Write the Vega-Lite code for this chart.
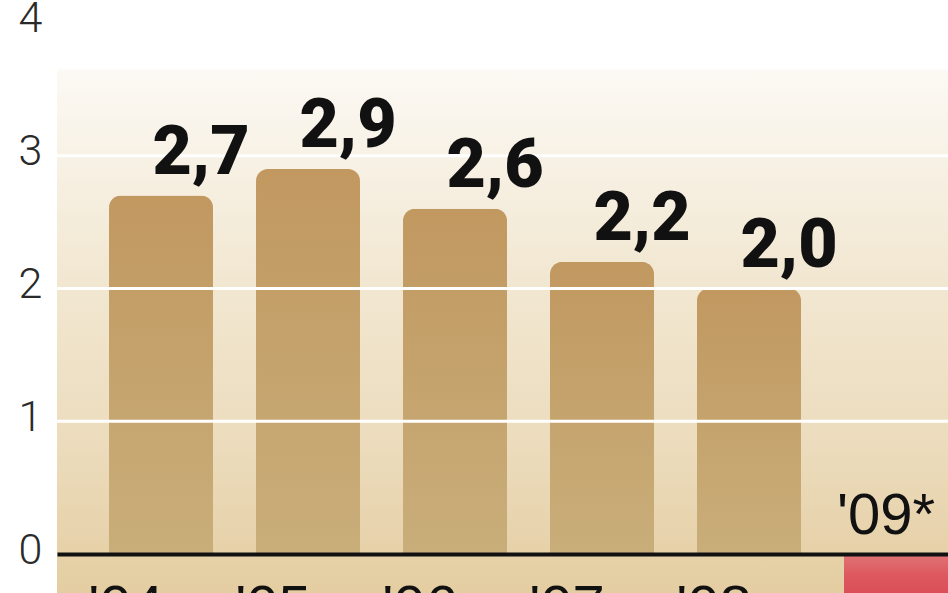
{
  "$schema": "https://vega.github.io/schema/vega-lite/v6.json",
  "autosize": {"type": "none"},
  "padding": {"left": 57, "top": 0, "right": 0, "bottom": 0},
  "width": 891,
  "height": 593,
  "background": "#ffffff",
  "config": {
    "locale": {"number": {"decimal": ",", "thousands": " ", "grouping": [3], "currency": ["", " zł"]}},
    "view": {
      "stroke": null,
      "fill": {
        "gradient": "linear", "x1": 0, "y1": 0, "x2": 0, "y2": 1,
        "stops": [
          {"offset": 0, "color": "#ffffff"},
          {"offset": 0.115, "color": "#ffffff"},
          {"offset": 0.12, "color": "#fcf9f4"},
          {"offset": 0.45, "color": "#f2e8d3"},
          {"offset": 0.75, "color": "#ecdcbd"},
          {"offset": 1, "color": "#e4cda1"}
        ]
      }
    }
  },
  "data": {
    "values": [
      {"rok": "'04", "v": 2.7},
      {"rok": "'05", "v": 2.9},
      {"rok": "'06", "v": 2.6},
      {"rok": "'07", "v": 2.2},
      {"rok": "'08", "v": 2.0},
      {"rok": "'09*", "v": -0.5}
    ]
  },
  "layer": [
    {
      "mark": {"type": "bar", "cornerRadiusEnd": 12},
      "encoding": {
        "x": {
          "field": "rok",
          "type": "ordinal",
          "sort": null,
          "scale": {"paddingInner": 0.2925, "paddingOuter": 0.1769, "align": 1},
          "axis": {
            "title": null,
            "orient": "bottom",
            "offset": -39,
            "zindex": 2,
            "ticks": false,
            "domainColor": "#111111",
            "domainWidth": 4,
            "labelAngle": 0,
            "labelFont": "Liberation Sans",
            "labelFontSize": 58,
            "labelColor": "#111111",
            "labelBaseline": "alphabetic",
            "labelPadding": 71,
            "labelOffset": -35,
            "labelExpr": "datum.value == \"'09*\" ? '' : datum.value"
          }
        },
        "y": {
          "field": "v",
          "type": "quantitative",
          "scale": {"domain": [-0.293, 4.173], "nice": false, "zero": true},
          "axis": {
            "title": null,
            "values": [0, 1, 2, 3, 4],
            "format": "d",
            "domain": false,
            "ticks": false,
            "grid": false,
            "labelAlign": "left",
            "labelPadding": 39,
            "labelBaseline": "middle",
            "labelOffset": -4,
            "labelFont": "Roboto",
            "labelFontWeight": 300,
            "labelFontSize": 43,
            "labelColor": "#2a2a2a"
          }
        },
        "color": {
          "value": {
            "gradient": "linear", "x1": 0, "y1": 0, "x2": 0, "y2": 1,
            "stops": [
              {"offset": 0, "color": "#c19860"},
              {"offset": 1, "color": "#c9ae7a"}
            ]
          }
        },
        "opacity": {"condition": {"test": "datum.v < 0", "value": 0}, "value": 1}
      }
    },
    {
      "transform": [{"filter": "datum.v < 0"}],
      "mark": {"type": "bar"},
      "encoding": {
        "x": {"field": "rok", "type": "ordinal", "sort": null},
        "y": {"field": "v", "type": "quantitative"},
        "color": {
          "value": {
            "gradient": "linear", "x1": 0, "y1": 0, "x2": 0, "y2": 1,
            "stops": [
              {"offset": 0, "color": "#e07476"},
              {"offset": 0.3, "color": "#dd5a60"},
              {"offset": 1, "color": "#d83c4a"}
            ]
          }
        }
      }
    },
    {
      "data": {"values": [{"g": 1}, {"g": 2}, {"g": 3}]},
      "mark": {"type": "rule", "color": "#ffffff", "strokeWidth": 3},
      "encoding": {
        "y": {"field": "g", "type": "quantitative"}
      }
    },
    {
      "transform": [{"filter": "datum.v >= 0"}],
      "mark": {
        "type": "text",
        "baseline": "alphabetic",
        "align": "center",
        "dx": 40,
        "dy": -22,
        "font": "Roboto",
        "fontWeight": 900,
        "fontSize": 68,
        "color": "#111111"
      },
      "encoding": {
        "x": {"field": "rok", "type": "ordinal", "sort": null},
        "y": {"field": "v", "type": "quantitative"},
        "text": {"field": "v", "type": "quantitative", "format": ".1f"}
      }
    },
    {
      "transform": [{"filter": "datum.v < 0"}],
      "mark": {
        "type": "text",
        "baseline": "alphabetic",
        "align": "center",
        "dx": -10,
        "dy": -20,
        "font": "Liberation Sans",
        "fontSize": 58,
        "color": "#111111"
      },
      "encoding": {
        "x": {"field": "rok", "type": "ordinal", "sort": null},
        "y": {"datum": 0},
        "text": {"field": "rok"}
      }
    }
  ]
}
